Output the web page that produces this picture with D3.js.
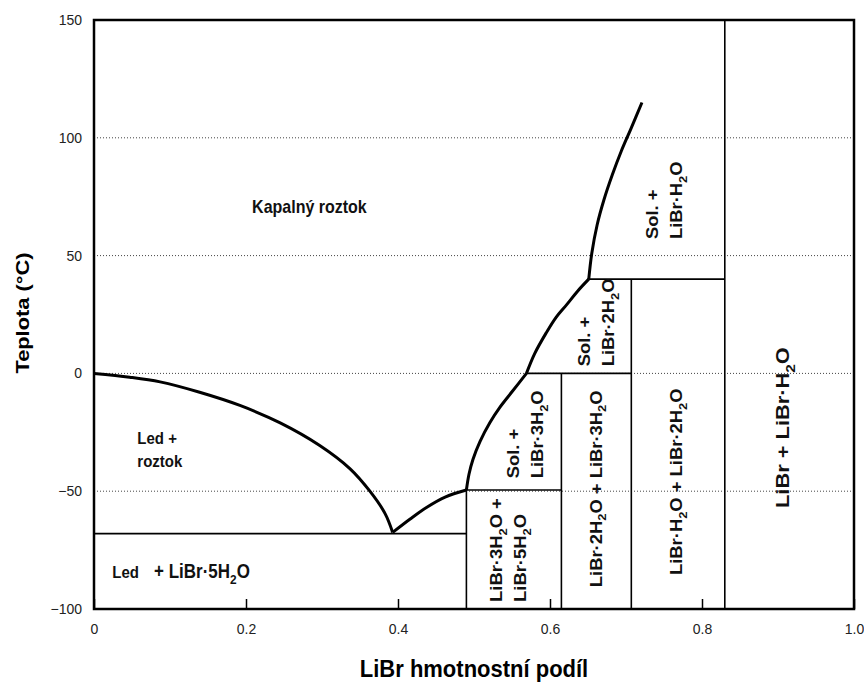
<!DOCTYPE html>
<html>
<head>
<meta charset="utf-8">
<script src="https://cdn.jsdelivr.net/npm/d3@7"></script>
<style>
  body { margin: 0; background: #fff; }
  svg { display: block; font-family: "Liberation Sans", Arial, sans-serif; }
</style>
</head>
<body>
<div id="chart-container"></div>
<script>
// axis values
const xTicks = [0, 0.2, 0.4, 0.6, 0.8, 1.0];
const xTickLabels = ["0", "0.2", "0.4", "0.6", "0.8", "1.0"];
const yTicks = [-100, -50, 0, 50, 100, 150];
const gridTemps = [-50, 0, 50, 100];

// liquidus curves [mass fraction, temperature]
const iceCurve = [[0, 0], [0.047, -1.6], [0.087, -3.6], [0.139, -8], [0.192, -13.6],
  [0.245, -21], [0.297, -30.6], [0.337, -40.5], [0.363, -50], [0.383, -59.5], [0.393, -67.5]];
const pentaCurve = [[0.393, -67.5], [0.416, -61.8], [0.438, -56.8], [0.462, -52.5], [0.49, -49.5]];
const triCurve = [[0.49, -49.5], [0.4934, -42.8], [0.4987, -36.4], [0.508, -28.8],
  [0.521, -20.8], [0.534, -14.4], [0.55, -7.8], [0.569, 0]];
const diCurve = [[0.569, 0], [0.58, 8.5], [0.595, 17.2], [0.608, 23.8], [0.622, 29.2],
  [0.636, 34.8], [0.651, 40]];
const monoCurve = [[0.651, 40], [0.655, 51], [0.662, 63], [0.671, 73.7], [0.682, 84.3],
  [0.694, 94.5], [0.706, 103.5], [0.721, 115]];

// straight phase boundaries
const boundaries = [
  [[0, -68], [0.49, -68]],
  [[0.49, -100], [0.49, -49.5]],
  [[0.49, -49.5], [0.615, -49.5]],
  [[0.615, -100], [0.615, 0]],
  [[0.569, 0], [0.707, 0]],
  [[0.707, -100], [0.707, 40]],
  [[0.651, 40], [0.83, 40]],
  [[0.83, -100], [0.83, 150]]
];

// region labels ("_2" = subscript)
const flatLabels = [
  { lines: ["Kapalný roztok"], x: 0.208, t: 68 },
  { lines: ["Led +", "roztok"], x: 0.057, t: -30 }
];
const bottomLabelLed = { text: "Led", x: 0.024, t: -87 };
const bottomLabelSalt = { text: "+ LiBr·5H_2O", x: 0.079, t: -87 };

const rotLabels = [
  { lines: ["Sol. +", "LiBr·H_2O"], x: 0.742, t: 57, anchor: "start" },
  { lines: ["Sol. +", "LiBr·2H_2O"], x: 0.653, t: 3, anchor: "start" },
  { lines: ["Sol. +", "LiBr·3H_2O"], x: 0.559, t: -44.5, anchor: "start" },
  { lines: ["LiBr·3H_2O +", "LiBr·5H_2O"], x: 0.537, t: -97, anchor: "start" },
  { lines: ["LiBr·2H_2O + LiBr·3H_2O"], x: 0.668, t: -49, anchor: "middle" },
  { lines: ["LiBr·H_2O + LiBr·2H_2O"], x: 0.774, t: -46, anchor: "middle" }
];
const bigLabel = { text: "LiBr + LiBr·H_2O", x: 0.915, t: -23 };

const W = 864, H = 684;
const margin = { top: 20, right: 10, bottom: 75, left: 94 };
const width = 854 - margin.left;
const height = 609 - margin.top;
const STRETCH = 1.15;

const svg = d3.select("#chart-container")
  .append("svg")
  .attr("width", W)
  .attr("height", H);

const g = svg.append("g")
  .attr("transform", `translate(${margin.left},${margin.top})`);

const x = d3.scaleLinear().domain([0, 1]).range([0, width]);
const y = d3.scaleLinear().domain([-100, 150]).range([height, 0]);

// dotted grid
g.selectAll(".grid")
  .data(gridTemps)
  .enter().append("line")
  .attr("x1", 0).attr("x2", width)
  .attr("y1", d => y(d)).attr("y2", d => y(d))
  .attr("stroke", "#444")
  .attr("stroke-width", 1)
  .attr("stroke-dasharray", "1,2");

// axes
const xAxis = g.append("g")
  .attr("transform", `translate(0,${height})`)
  .call(d3.axisBottom(x).tickValues(xTicks)
    .tickFormat((d, i) => xTickLabels[i])
    .tickSizeInner(-10).tickSizeOuter(0).tickPadding(15));
xAxis.select(".domain").remove();
xAxis.selectAll("line").attr("stroke", "#000").attr("stroke-width", 1.5);
xAxis.selectAll("text").attr("font-size", 14).attr("fill", "#222");

const yAxis = g.append("g")
  .call(d3.axisLeft(y).tickValues(yTicks).tickSize(0).tickPadding(12));
yAxis.select(".domain").remove();
yAxis.selectAll("text").attr("font-size", 14).attr("fill", "#222");

// boundaries
const line = d3.line().x(d => x(d[0])).y(d => y(d[1]));

g.selectAll(".bound")
  .data(boundaries)
  .enter().append("path")
  .attr("d", line)
  .attr("fill", "none")
  .attr("stroke", "#000")
  .attr("stroke-width", 1.6);

const curve = d3.line().x(d => x(d[0])).y(d => y(d[1])).curve(d3.curveCatmullRom.alpha(0.5));
g.selectAll(".liq")
  .data([iceCurve, pentaCurve, triCurve, diCurve, monoCurve])
  .enter().append("path")
  .attr("d", curve)
  .attr("fill", "none")
  .attr("stroke", "#000")
  .attr("stroke-width", 3)
  .attr("stroke-linejoin", "round");

// frame
g.append("rect")
  .attr("width", width).attr("height", height)
  .attr("fill", "none")
  .attr("stroke", "#000")
  .attr("stroke-width", 2.5);

// text with subscripts
function richText(sel, str, fs) {
  const parts = str.split(/_(\d)/);
  let shift = 0;
  parts.forEach((p, i) => {
    if (p === "") return;
    const ts = sel.append("tspan").text(p);
    if (i % 2 === 1) {
      ts.attr("dy", fs * 0.3).attr("font-size", fs * 0.7);
      shift = -fs * 0.3;
    } else if (shift) {
      ts.attr("dy", shift);
      shift = 0;
    }
  });
  return sel;
}

function label(lines, px, py, opts) {
  const rot = opts.rotate ? " rotate(-90)" : "";
  const grp = g.append("g")
    .attr("transform", `translate(${px},${py}) scale(1,${STRETCH})${rot}`);
  lines.forEach((ln, i) => {
    const t = grp.append("text")
      .attr("y", i * opts.lh)
      .attr("font-size", opts.fs)
      .attr("font-weight", "bold")
      .attr("text-anchor", opts.anchor || "start")
      .attr("fill", "#111");
    richText(t, ln, opts.fs);
  });
}

flatLabels.forEach((d, i) => {
  label(d.lines, x(d.x), y(d.t), { fs: i === 0 ? 16 : 15, lh: 20 });
});
label([bottomLabelLed.text], x(bottomLabelLed.x), y(bottomLabelLed.t), { fs: 15, lh: 0 });
label([bottomLabelSalt.text], x(bottomLabelSalt.x), y(bottomLabelSalt.t), { fs: 17, lh: 0 });

rotLabels.forEach(d => {
  label(d.lines, x(d.x), y(d.t), { fs: 16, lh: 24, rotate: true, anchor: d.anchor });
});
label([bigLabel.text], x(bigLabel.x), y(bigLabel.t), { fs: 19, lh: 0, rotate: true, anchor: "middle" });

// axis titles
svg.append("text")
  .attr("transform", `translate(29,313) scale(1,${STRETCH}) rotate(-90)`)
  .attr("text-anchor", "middle")
  .attr("font-size", 19)
  .attr("font-weight", "bold")
  .text("Teplota (°C)");

svg.append("text")
  .attr("transform", `translate(${margin.left + width / 2},677) scale(1,1.05)`)
  .attr("text-anchor", "middle")
  .attr("font-size", 22)
  .attr("font-weight", "bold")
  .text("LiBr hmotnostní podíl");
</script>
</body>
</html>
